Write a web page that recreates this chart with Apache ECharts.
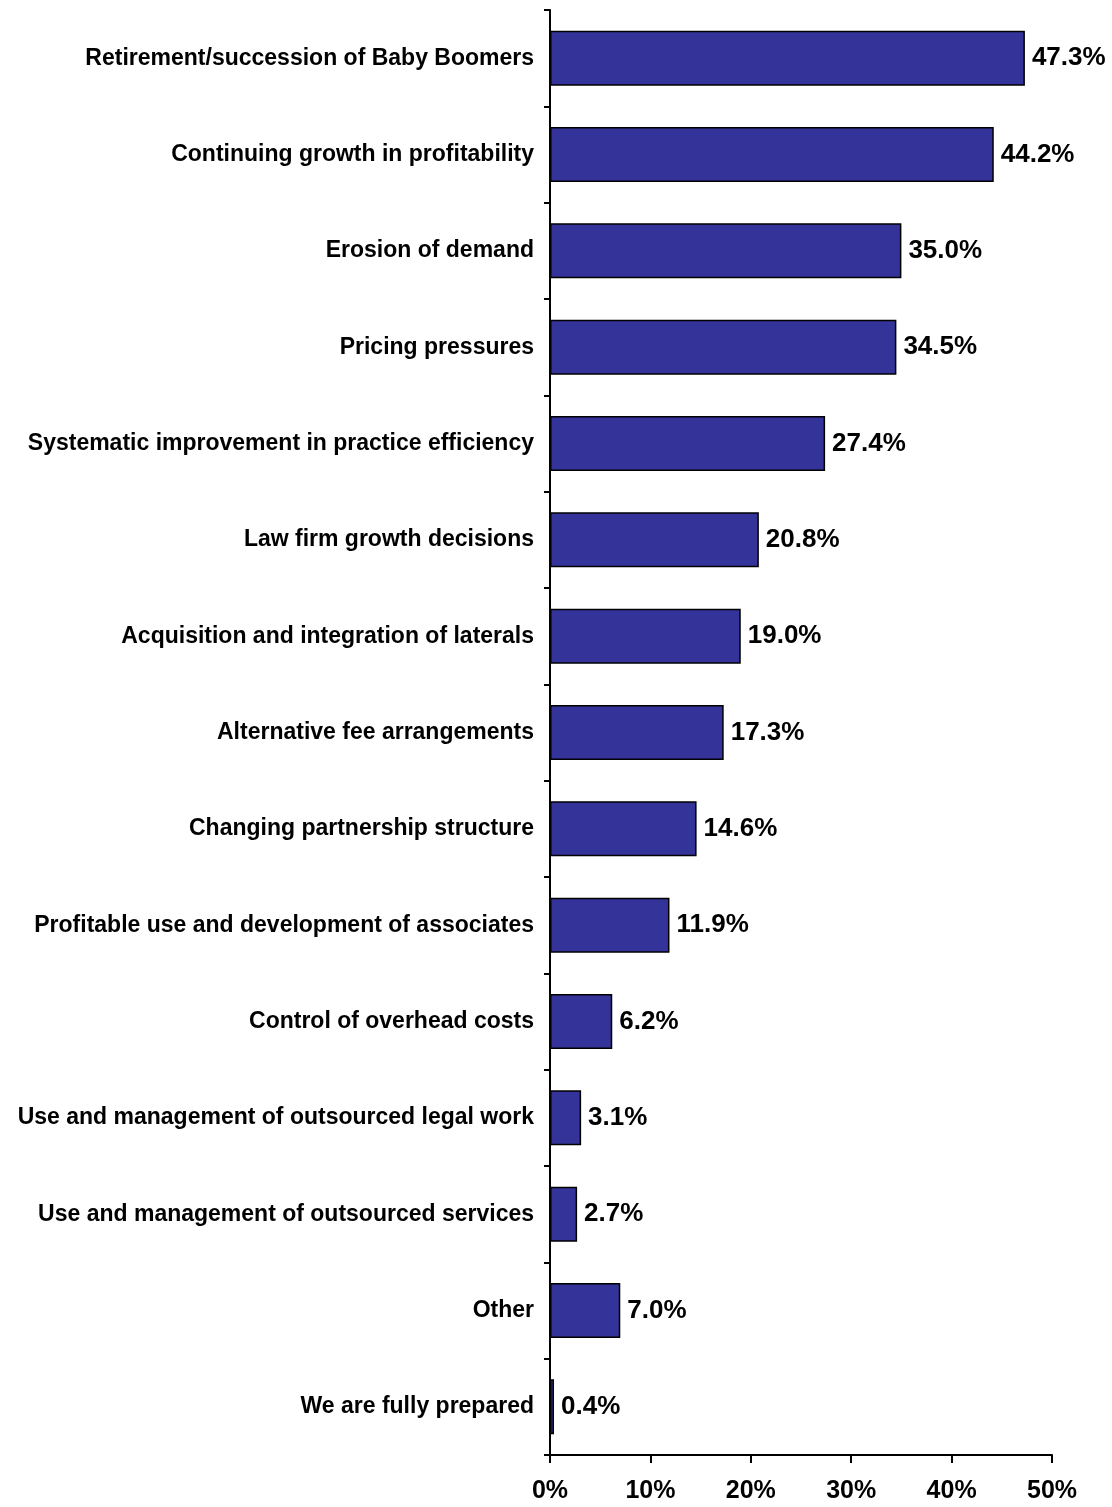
<!DOCTYPE html>
<html>
<head>
<meta charset="utf-8">
<script src="https://cdn.jsdelivr.net/npm/echarts@6/dist/echarts.min.js"></script>
<style>
  html, body { margin: 0; padding: 0; background: #fff; }
  #chart { width: 1112px; height: 1507px; }
</style>
</head>
<body>
<div id="chart"></div>
<script>
// categories, top to bottom
var categories = [
  'Retirement/succession of Baby Boomers',
  'Continuing growth in profitability',
  'Erosion of demand',
  'Pricing pressures',
  'Systematic improvement in practice efficiency',
  'Law firm growth decisions',
  'Acquisition and integration of laterals',
  'Alternative fee arrangements',
  'Changing partnership structure',
  'Profitable use and development of associates',
  'Control of overhead costs',
  'Use and management of outsourced legal work',
  'Use and management of outsourced services',
  'Other',
  'We are fully prepared'
];
// percent of respondents
var values = [47.3, 44.2, 35.0, 34.5, 27.4, 20.8, 19.0, 17.3, 14.6, 11.9, 6.2, 3.1, 2.7, 7.0, 0.4];
var xTicks = [0, 10, 20, 30, 40, 50];

var chart = echarts.init(document.getElementById('chart'));

var option = {
  animation: false,
  textStyle: { fontFamily: 'Liberation Sans, Arial, sans-serif' },
  grid: { left: 550, right: 60, top: 10, bottom: 52 },
  xAxis: {
    type: 'value',
    min: xTicks[0],
    max: xTicks[xTicks.length - 1],
    interval: 10,
    axisLine: { show: true, lineStyle: { color: '#000', width: 2 } },
    axisTick: { show: true, length: 8, lineStyle: { color: '#000', width: 2 } },
    splitLine: { show: false },
    axisLabel: {
      formatter: '{value}%',
      color: '#000',
      fontWeight: 'bold',
      fontSize: 25,
      margin: 24
    }
  },
  yAxis: {
    type: 'category',
    inverse: true,
    data: categories,
    axisLine: { show: true, lineStyle: { color: '#000', width: 2 } },
    axisTick: { show: true, length: 6, lineStyle: { color: '#000', width: 2 } },
    axisLabel: {
      color: '#000',
      fontWeight: 'bold',
      fontSize: 23,
      margin: 16
    }
  },
  series: [{
    type: 'bar',
    data: values,
    barWidth: 55,
    itemStyle: { color: '#333399', borderColor: '#000', borderWidth: 1.5 },
    label: {
      show: true,
      position: 'right',
      distance: 7,
      formatter: function (p) { return p.value.toFixed(1) + '%'; },
      color: '#000',
      fontWeight: 'bold',
      fontSize: 26
    }
  }]
};

chart.setOption(option);
</script>
</body>
</html>
